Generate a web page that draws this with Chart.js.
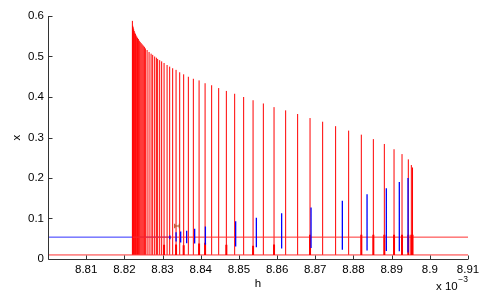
<!DOCTYPE html>
<html>
<head>
<meta charset="utf-8">
<script src="https://cdn.jsdelivr.net/npm/chart.js@4/dist/chart.umd.min.js"></script>
<style>
html,body{margin:0;padding:0;background:#fff;}
canvas{display:block;}
</style>
</head>
<body>
<canvas id="c" width="491" height="295"></canvas>
<script>
// ---- data (x in units of 1e-3) ----
const xTicks = [8.81, 8.82, 8.83, 8.84, 8.85, 8.86, 8.87, 8.88, 8.89, 8.90, 8.91];
const xTickLabels = ['8.81','8.82','8.83','8.84','8.85','8.86','8.87','8.88','8.89','8.9','8.91'];
const yTicks = [0, 0.1, 0.2, 0.3, 0.4, 0.5, 0.6];
const yTickLabels = ['0','0.1','0.2','0.3','0.4','0.5','0.6'];

// long red vertical lines: position and top value (bottom at redBase)
const redX = [8.82210,8.82220,8.82231,8.82244,8.82257,8.82273,8.82289,8.82307,8.82325,8.82346,
  8.82367,8.82391,8.82414,8.82440,8.82467,8.82495,8.82524,8.82550,8.82595,8.82647,
  8.82700,8.82742,8.82794,8.82838,8.82872,8.82925,8.82977,8.83040,8.83119,8.83187,
  8.83265,8.83354,8.83449,8.83553,8.83676,8.83807,8.83957,8.84114,8.84286,8.84470,
  8.84671,8.84889,8.85124,8.85371,8.85640,8.85920,8.86224,8.86538,8.86863,8.87193,
  8.87533,8.87874,8.88206,8.88521,8.88809,8.89063,8.89272,8.89437,8.89516,8.89547];
const redTop = [0.588,0.576,0.572,0.567,0.563,0.559,0.556,0.552,0.549,0.546,
  0.543,0.539,0.536,0.533,0.530,0.527,0.524,0.520,0.516,0.511,
  0.507,0.504,0.500,0.497,0.494,0.491,0.488,0.484,0.479,0.475,
  0.471,0.467,0.461,0.456,0.450,0.445,0.441,0.434,0.429,0.422,
  0.415,0.408,0.400,0.392,0.384,0.375,0.367,0.358,0.348,0.339,
  0.328,0.317,0.307,0.296,0.284,0.271,0.259,0.246,0.232,0.226];
const redBase = 0.010;

// short, heavier red segments near the bottom
const redShortX = [8.83040,8.83354,8.83553,8.83957,8.84114,8.84671,8.85371,8.85920,
  8.86863,8.88206,8.88521,8.88809,8.89063,8.89272,8.89437,8.89516,8.89547];
const redShortTop = [0.035,0.036,0.034,0.038,0.040,0.035,0.033,0.036,
  0.060,0.060,0.060,0.060,0.060,0.060,0.060,0.060,0.060];

// horizontal lines
const redLevelHigh = 0.054, redLevelLow = 0.010, blueLevel = 0.054;
const redHighSpan = [8.8222, 8.9105];
const redLowSpan = [8.80, 8.9105];
const blueSpan = [8.80, 8.8322];

// blue vertical segments
const blueX = [8.83192,8.83354,8.83475,8.83632,8.83841,8.84122,8.84915,8.85457,8.86119,
  8.86889,8.87709,8.88356,8.88861,8.89201,8.89429];
const blueLow = [0.049,0.043,0.041,0.039,0.038,0.035,0.031,0.029,0.026,
  0.027,0.023,0.021,0.020,0.019,0.016];
const blueHigh = [0.058,0.066,0.068,0.070,0.075,0.080,0.093,0.102,0.113,
  0.127,0.144,0.160,0.175,0.190,0.200];

// small brown "H" mark
const hX = [8.8332, 8.8344];
const hLow = 0.076, hHigh = 0.087, hMid = 0.0815;

// ---- build line segments ----
function segs(xs, lo, hi){
  const out = [];
  xs.forEach((x,i)=>{
    out.push({x:x, y:Array.isArray(lo)?lo[i]:lo});
    out.push({x:x, y:Array.isArray(hi)?hi[i]:hi});
    out.push({x:x, y:null});
  });
  return out;
}
function hline(span, level){ return [{x:span[0],y:level},{x:span[1],y:level}]; }

const base = {showLine:true, pointRadius:0, pointHoverRadius:0, fill:false, tension:0, spanGaps:false};
const FONT = {family:'"Liberation Sans", Arial, sans-serif', size:11.5};

const axisPlugin = {
  id:'axisDeco',
  afterDatasetsDraw(chart){
    const {ctx, chartArea:a, scales:{x, y}} = chart;
    ctx.save();
    ctx.strokeStyle = '#333';
    ctx.lineWidth = 1;
    ctx.beginPath();
    const L = Math.round(a.left)+0.5, B = Math.round(a.bottom)+0.5;
    ctx.moveTo(L, a.top); ctx.lineTo(L, B); ctx.lineTo(a.right, B);
    yTicks.forEach(v=>{ const p = Math.round(y.getPixelForValue(v))+0.5; ctx.moveTo(L,p); ctx.lineTo(L+4,p); });
    xTicks.forEach(v=>{ const p = Math.round(x.getPixelForValue(v))+0.5; ctx.moveTo(p,B); ctx.lineTo(p,B-4); });
    ctx.stroke();
    // exponent label
    ctx.fillStyle = '#000';
    ctx.textBaseline = 'middle';
    ctx.textAlign = 'left';
    ctx.font = '11.5px "Liberation Sans", Arial, sans-serif';
    const ex = a.right - 32;
    ctx.fillText('x 10', ex, 287);
    const w = ctx.measureText('x 10').width;
    ctx.font = '8.5px "Liberation Sans", Arial, sans-serif';
    ctx.fillText('\u22123', ex + w + 0.5, 280);
    ctx.restore();
  }
};

new Chart(document.getElementById('c'), {
  type:'scatter',
  data:{
    datasets:[
      Object.assign({}, base, {label:'H', data: segs(hX, hLow, hHigh).concat([{x:hX[0],y:hMid},{x:hX[1],y:hMid}]), borderColor:'#b04a20', borderWidth:1.2}),
      Object.assign({}, base, {label:'blue', data: segs(blueX, blueLow, blueHigh), borderColor:'#0000ff', borderWidth:1.3}),
      Object.assign({}, base, {label:'redShort', data: segs(redShortX, redBase, redShortTop), borderColor:'#ff0000', borderWidth:2}),
      Object.assign({}, base, {label:'redHigh', data: hline(redHighSpan, redLevelHigh), borderColor:'#ff3030', borderWidth:1}),
      Object.assign({}, base, {label:'redLow', data: hline(redLowSpan, redLevelLow), borderColor:'#ff3030', borderWidth:1}),
      Object.assign({}, base, {label:'red', data: segs(redX, redBase, redTop), borderColor:'#ff0000', borderWidth:1}),
      Object.assign({}, base, {label:'blueH', data: hline(blueSpan, blueLevel), borderColor:'#3030ff', borderWidth:1})
    ]
  },
  options:{
    responsive:false,
    animation:false,
    devicePixelRatio:1,
    layout:{padding:{top:16, right:23, left:0, bottom:0}},
    plugins:{legend:{display:false}, tooltip:{enabled:false}},
    scales:{
      x:{
        type:'linear', min:8.80, max:8.91,
        grid:{display:false, drawTicks:false},
        border:{display:false},
        afterBuildTicks:(s)=>{ s.ticks = xTicks.map(v=>({value:v})); },
        ticks:{callback:(v,i)=>xTickLabels[i], font:FONT, color:'#000', padding:4, maxRotation:0, autoSkip:false},
        title:{display:true, text:'h', font:FONT, color:'#000', padding:{top:0, bottom:4}},
        afterFit:(s)=>{ s.height = 36; }
      },
      y:{
        type:'linear', min:0, max:0.6,
        grid:{display:false, drawTicks:false},
        border:{display:false},
        afterBuildTicks:(s)=>{ s.ticks = yTicks.map(v=>({value:v})); },
        ticks:{callback:(v,i)=>yTickLabels[i], font:FONT, color:'#000', padding:4, autoSkip:false},
        title:{display:true, text:'x', font:FONT, color:'#000', padding:{top:10, bottom:0}},
        afterFit:(s)=>{ s.width = 48; }
      }
    }
  },
  plugins:[axisPlugin]
});
</script>
</body>
</html>
